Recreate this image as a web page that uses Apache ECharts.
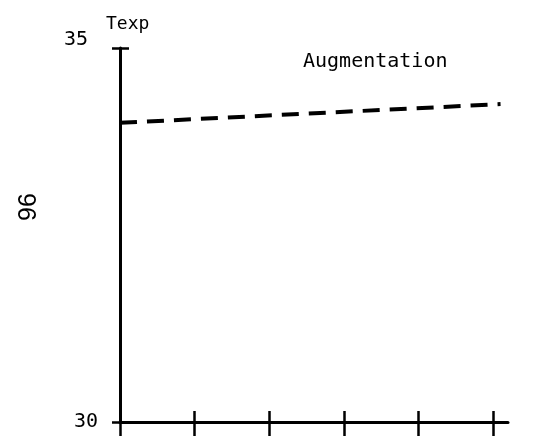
<!DOCTYPE html>
<html>
<head>
<meta charset="utf-8">
<script src="https://cdn.jsdelivr.net/npm/echarts@6/dist/echarts.min.js"></script>
<style>html,body{margin:0;padding:0;background:#fff;}#c{width:535px;height:444px;}</style>
</head>
<body>
<div id="c"></div>
<script>
var xValues = [0, 5.1];
var augmentation = [34.0, 34.25];
var xTicks = [0, 1, 2, 3, 4, 5];
var yTicks = [30, 35];
var yName = '96';
var yUnit = 'Texp';
var seriesName = 'Augmentation';

var chart = echarts.init(document.getElementById('c'));
var mono = 'DejaVu Sans Mono';
var lineData = xValues.map(function (x, i) { return [x, augmentation[i]]; });

var axisLine = { show: true, lineStyle: { color: '#000', width: 3 } };
chart.setOption({
  animation: false,
  backgroundColor: '#fff',
  title: [
    { text: yUnit, left: 101, top: 10, textStyle: { fontFamily: mono, fontSize: 18, fontWeight: 'normal', color: '#000' } },
    { text: seriesName, left: 298, top: 47, textStyle: { fontFamily: mono, fontSize: 20, fontWeight: 'normal', color: '#000' } }
  ],
  grid: { left: 120, right: 27, top: 48, bottom: 22, outerBoundsMode: 'none', containLabel: false },
  xAxis: [
    { type: 'value', min: 0, max: 5.2, position: 'bottom',
      axisLine: axisLine, splitLine: { show: false }, axisLabel: { show: false },
      axisTick: { show: true, inside: false, length: 14, customValues: xTicks, lineStyle: { color: '#000', width: 2.5 } } },
    { type: 'value', min: 0, max: 5.2, position: 'bottom',
      axisLine: { show: false }, splitLine: { show: false }, axisLabel: { show: false },
      axisTick: { show: true, inside: true, length: 11, customValues: xTicks.slice(1), lineStyle: { color: '#000', width: 2.5 } } }
  ],
  yAxis: [
    { type: 'value', min: 30, max: 35, interval: 5, position: 'left',
      name: yName, nameLocation: 'middle', nameGap: 78, nameRotate: 90,
      nameTextStyle: { fontFamily: 'Liberation Sans, Arial, sans-serif', fontSize: 25, color: '#000', padding: [0, 0, 0, 56] },
      axisLine: axisLine, splitLine: { show: false },
      axisTick: { show: true, inside: false, length: 8, customValues: yTicks, lineStyle: { color: '#000', width: 2.5 } },
      axisLabel: { show: true, margin: 22, customValues: yTicks,
        formatter: function (v) { return v === 35 ? '{t|' + v + '}' : '{b|' + v + '}'; },
        rich: {
          t: { fontFamily: mono, fontSize: 20, color: '#000', padding: [0, 10, 16, 0] },
          b: { fontFamily: mono, fontSize: 20, color: '#000' }
        } } },
    { type: 'value', min: 30, max: 35, interval: 5, position: 'left',
      axisLine: { show: false }, splitLine: { show: false }, axisLabel: { show: false },
      axisTick: { show: true, inside: true, length: 9, customValues: [35], lineStyle: { color: '#000', width: 2.5 } } }
  ],
  series: [
    { name: seriesName, type: 'line', xAxisIndex: 0, yAxisIndex: 0, data: lineData,
      symbol: 'none', lineStyle: { color: '#000', width: 4, type: [17, 10], cap: 'butt' } }
  ]
});
</script>
</body>
</html>
